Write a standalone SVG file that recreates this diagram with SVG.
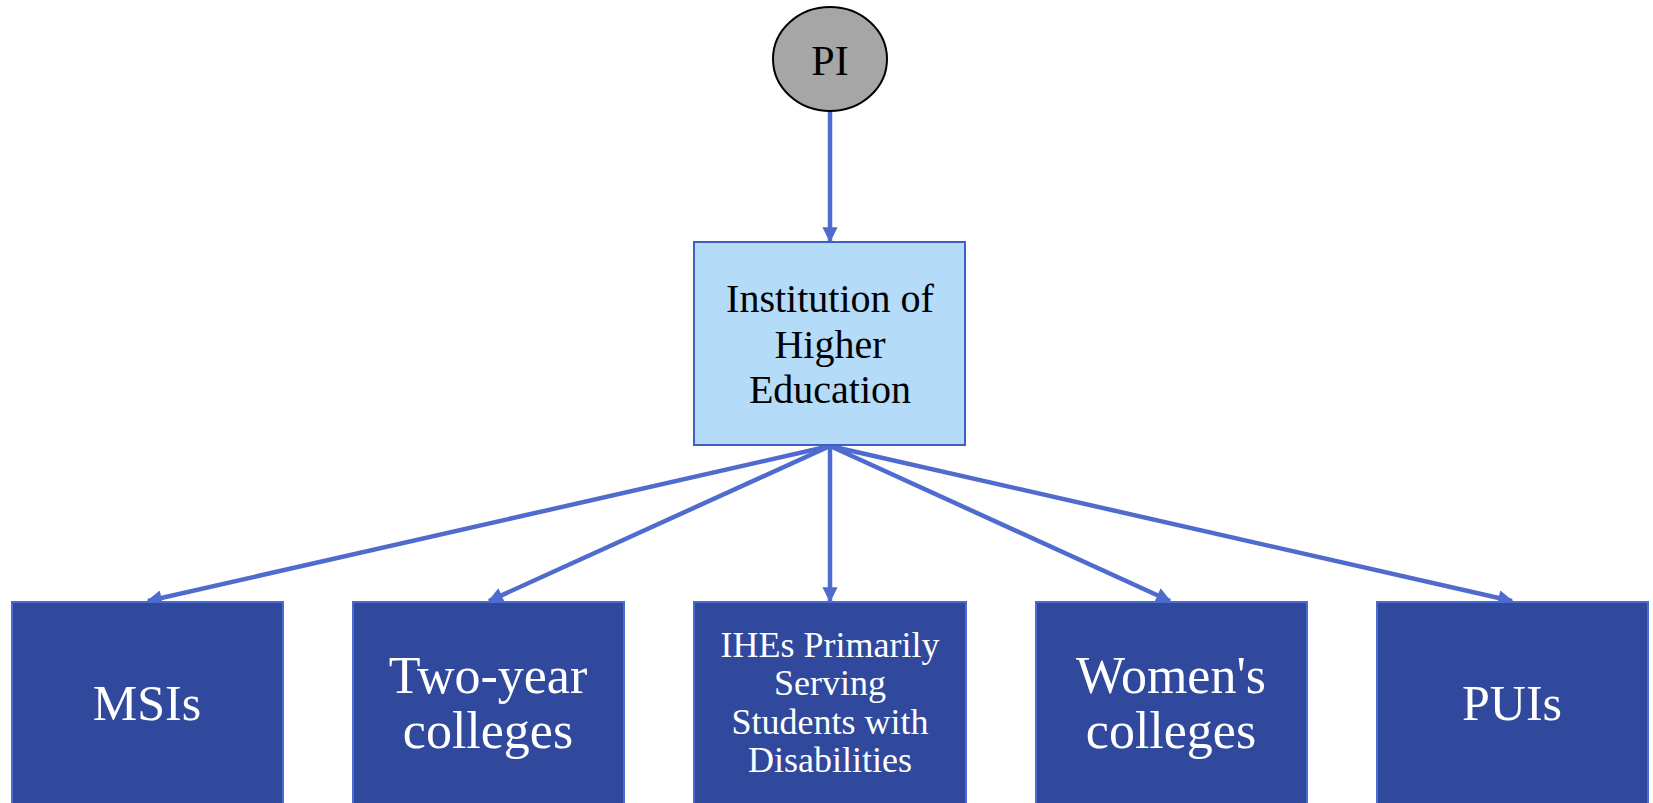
<svg xmlns="http://www.w3.org/2000/svg" width="1653" height="803" viewBox="0 0 1653 803">
<style>
text{font-family:"Liberation Serif","Times New Roman",serif;text-anchor:middle}
.c{fill:none;stroke:#4f6bcd;stroke-width:4.5}
.leaf rect{fill:#30499d;stroke:#4a6bd0;stroke-width:2}
.leaf text{fill:#ffffff}
.big{font-size:50px}
.two{font-size:52px}
.small{font-size:36px}
</style>
<defs>
<marker id="ah" viewBox="0 0 10 10" refX="9" refY="5" markerWidth="3.8" markerHeight="3.4" orient="auto" markerUnits="strokeWidth">
<path d="M0,0 L10,5 L0,10 z" fill="#4f6bcd"/>
</marker>
</defs>
<rect width="1653" height="803" fill="#ffffff"/>
<g id="connectors">
<line class="c" x1="830" y1="111" x2="830" y2="241" marker-end="url(#ah)"/>
<line class="c" x1="830" y1="446" x2="148" y2="601" marker-end="url(#ah)"/>
<line class="c" x1="830" y1="446" x2="489" y2="601" marker-end="url(#ah)"/>
<line class="c" x1="830" y1="446" x2="830" y2="601" marker-end="url(#ah)"/>
<line class="c" x1="830" y1="446" x2="1170" y2="601" marker-end="url(#ah)"/>
<line class="c" x1="830" y1="446" x2="1512" y2="601" marker-end="url(#ah)"/>
</g>
<g id="pi">
<ellipse cx="830" cy="59" rx="57" ry="52" fill="#a6a6a6" stroke="#000000" stroke-width="2"/>
<text x="830" y="75" font-size="42" fill="#000000">PI</text>
</g>
<g id="ihe">
<rect x="694" y="242" width="271" height="203" fill="#b4dbf8" stroke="#3f5fc8" stroke-width="2"/>
<text x="830" y="312" font-size="40" fill="#000000">Institution of</text>
<text x="830" y="358" font-size="40" fill="#000000">Higher</text>
<text x="830" y="403" font-size="40" fill="#000000">Education</text>
</g>
<g id="msis" class="leaf">
<rect x="12" y="602" width="271" height="220"/>
<text class="big" x="147" y="720">MSIs</text>
</g>
<g id="two-year" class="leaf">
<rect x="353" y="602" width="271" height="220"/>
<text class="two" x="488" y="693">Two-year</text>
<text class="two" x="488" y="748">colleges</text>
</g>
<g id="ihes-disabilities" class="leaf">
<rect x="694" y="602" width="272" height="220"/>
<text class="small" x="830" y="657">IHEs Primarily</text>
<text class="small" x="830" y="695">Serving</text>
<text class="small" x="830" y="734">Students with</text>
<text class="small" x="830" y="772">Disabilities</text>
</g>
<g id="womens" class="leaf">
<rect x="1036" y="602" width="271" height="220"/>
<text class="two" x="1171" y="693">Women's</text>
<text class="two" x="1171" y="748">colleges</text>
</g>
<g id="puis" class="leaf">
<rect x="1377" y="602" width="271" height="220"/>
<text class="big" x="1512" y="720">PUIs</text>
</g>
</svg>
